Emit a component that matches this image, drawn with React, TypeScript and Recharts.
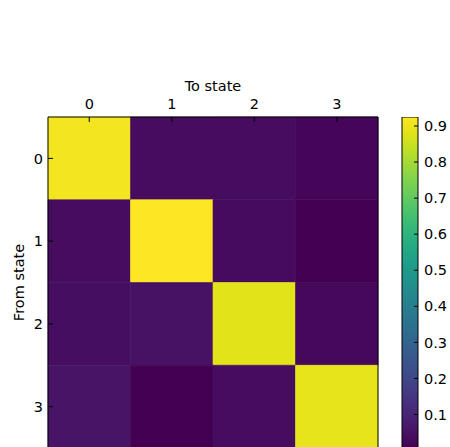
import { ComposedChart, BarChart, Bar, XAxis, YAxis, ReferenceArea } from "recharts"

const fromStates = ["0", "1", "2", "3"]
const toStates = ["0", "1", "2", "3"]

// transition probabilities, one array per "from" state
const row0 = [0.91, 0.037, 0.036, 0.017]
const row1 = [0.035, 0.925, 0.033, 0.007]
const row2 = [0.04, 0.05, 0.884, 0.026]
const row3 = [0.055, 0.007, 0.035, 0.893]
const matrix = [row0, row1, row2, row3]

const colorbarTicks = [0.1, 0.2, 0.3, 0.4, 0.5, 0.6, 0.7, 0.8, 0.9]

const viridisStops = [
  "#440154", "#471365", "#482475", "#463480", "#414487", "#3b528b", "#355f8d",
  "#2f6c8e", "#2a788e", "#25848e", "#21918c", "#1e9c89", "#22a884", "#2fb47c",
  "#44bf70", "#5ec962", "#7ad151", "#9bd93c", "#bddf26", "#dfe318", "#fde725",
]

const allValues = matrix.flat()
const vmin = Math.min(...allValues)
const vmax = Math.max(...allValues)

const hexToRgb = (h: string) => [1, 3, 5].map((i) => parseInt(h.slice(i, i + 2), 16))

function viridis(t: number) {
  const n = viridisStops.length
  const c = Math.min(1, Math.max(0, t)) * (n - 1)
  const i = Math.min(Math.floor(c), n - 2)
  const f = c - i
  const a = hexToRgb(viridisStops[i])
  const b = hexToRgb(viridisStops[i + 1])
  const rgb = a.map((v, k) => Math.round(v + (b[k] - v) * f))
  return `rgb(${rgb.join(",")})`
}

const cells = matrix.flatMap((row, r) =>
  row.map((value, c) => ({ row: r, col: c, x: c + 0.5, y: r + 0.5, value }))
)

const centers = toStates.map((_, i) => i + 0.5)
const font = { fontFamily: "DejaVu Sans", fontSize: 14.5, fill: "#000" }
const line = { stroke: "#000", strokeWidth: 1 }

function Heatmap() {
  return (
    <ComposedChart
      width={390}
      height={460}
      data={cells}
      margin={{ top: 87, right: 11, bottom: 11, left: 18 }}
    >
      {cells.map((c) => {
        const color = viridis((c.value - vmin) / (vmax - vmin))
        return (
          <ReferenceArea
            key={`${c.row}-${c.col}`}
            xAxisId="top"
            yAxisId="left"
            x1={c.col}
            x2={c.col + 1}
            y1={c.row}
            y2={c.row + 1}
            fill={color}
            fillOpacity={1}
            stroke={color}
            strokeWidth={0.6}
          />
        )
      })}
      <XAxis
        xAxisId="top"
        dataKey="x"
        type="number"
        orientation="top"
        domain={[0, toStates.length]}
        ticks={centers}
        tickFormatter={(v) => toStates[v - 0.5]}
        allowDataOverflow
        height={30}
        tick={font}
        axisLine={line}
        tickLine={line}
        tickSize={-5}
        tickMargin={13}
        label={{ value: "To state", position: "top", offset: -4, style: font }}
      />
      <XAxis
        xAxisId="bottom"
        dataKey="x"
        type="number"
        orientation="bottom"
        domain={[0, toStates.length]}
        ticks={centers}
        allowDataOverflow
        height={1}
        tick={false}
        axisLine={line}
        tickLine={line}
        tickSize={-5}
      />
      <YAxis
        yAxisId="left"
        dataKey="y"
        type="number"
        reversed
        domain={[0, fromStates.length]}
        ticks={centers}
        tickFormatter={(v) => fromStates[v - 0.5]}
        allowDataOverflow
        width={30}
        tick={font}
        axisLine={line}
        tickLine={line}
        tickSize={-5}
        tickMargin={10}
        label={{ value: "From state", angle: -90, position: "center", dx: -14, style: font }}
      />
      <YAxis
        yAxisId="right"
        dataKey="y"
        type="number"
        orientation="right"
        reversed
        domain={[0, fromStates.length]}
        ticks={centers}
        allowDataOverflow
        width={1}
        tick={false}
        axisLine={line}
        tickLine={line}
        tickSize={-5}
      />
    </ComposedChart>
  )
}

const colorbarData = [{ name: "cb", range: [vmin, vmax] }]

function Colorbar() {
  return (
    <BarChart
      width={60}
      height={460}
      data={colorbarData}
      barCategoryGap={0}
      margin={{ top: 117, right: 0, bottom: 12, left: 12 }}
    >
      <defs>
        <linearGradient id="viridisBar" x1="0" y1="1" x2="0" y2="0">
          {viridisStops.map((c, i) => (
            <stop key={c} offset={`${(i / (viridisStops.length - 1)) * 100}%`} stopColor={c} />
          ))}
        </linearGradient>
      </defs>
      <XAxis dataKey="name" hide />
      <YAxis
        type="number"
        orientation="right"
        domain={[vmin, vmax]}
        ticks={colorbarTicks}
        tickFormatter={(v) => v.toFixed(1)}
        allowDataOverflow
        width={32}
        tick={font}
        axisLine={false}
        tickLine={line}
        tickSize={-4}
        tickMargin={10}
      />
      <Bar dataKey="range" fill="url(#viridisBar)" stroke="#000" strokeWidth={1} isAnimationActive={false} />
    </BarChart>
  )
}

export default function App() {
  return (
    <div style={{ position: "absolute", left: 0, top: 0, width: 450, height: 447, overflow: "hidden", background: "#fff" }}>
      <div style={{ display: "flex" }}>
        <Heatmap />
        <Colorbar />
      </div>
    </div>
  )
}
